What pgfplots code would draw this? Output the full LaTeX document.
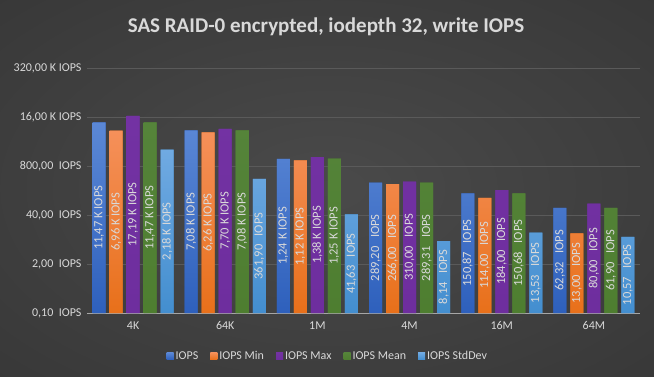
\documentclass[border=0pt]{standalone}
\usepackage{pgfplots}
\pgfplotsset{compat=1.18}
\usepackage{pgfplotstable}
\usepackage{fontspec}
\setmainfont{Carlito}
\pgfkeys{/pgf/number format/assume math mode=true}
\definecolor{bgin}{HTML}{4A4A4A}
\definecolor{bgout}{HTML}{262626}
\definecolor{txt}{HTML}{D9D9D9}
\definecolor{gridc}{HTML}{5A5A5A}
\definecolor{axc}{HTML}{A6A6A6}
\definecolor{bT}{HTML}{5B88D6}\definecolor{bB}{HTML}{2E60BC}
\definecolor{oT}{HTML}{F5905A}\definecolor{oB}{HTML}{E8701A}
\definecolor{pT}{HTML}{7332A3}\definecolor{pB}{HTML}{6E2E9E}
\definecolor{gT}{HTML}{55843A}\definecolor{gB}{HTML}{4E7E30}
\definecolor{lT}{HTML}{70AAE2}\definecolor{lB}{HTML}{438ECF}
\pgfdeclareradialshading{bgshade}{\pgfpoint{0bp}{0bp}}{color(0bp)=(bgin); color(72bp)=(bgout)}
\newcommand\iopslabel[1]{%
  \pgfkeys{/pgf/fpu=true,/pgf/fpu/output format=fixed}%
  \pgfmathparse{#1>=1000}\let\isk\pgfmathresult
  \pgfmathparse{#1/1000}\let\kval\pgfmathresult
  \pgfkeys{/pgf/fpu=false}%
  \ifdim\isk pt>0.5pt
    \pgfmathprintnumber[fixed,fixed zerofill,precision=2,use comma,assume math mode=true]{\kval}~K~IOPS%
  \else
    \pgfmathprintnumber[fixed,fixed zerofill,precision=2,use comma,assume math mode=true]{#1}~~~IOPS%
  \fi}
\newcommand\computeshift[1]{%
  \begingroup
  \pgfkeys{/pgf/fpu=true,/pgf/fpu/output format=fixed}%
  \pgfmathparse{-0.5*245*(ln(#1)-ln(0.1))/(ln(320000)-ln(0.1))}%
  \global\let\myshift\pgfmathresult
  \endgroup}
\pgfplotstableread{
x y
0 11470
1 7080
2 1240
3 289.20
4 150.87
5 62.32
}\tIOPS
\pgfplotstableread{
x y
0 6960
1 6260
2 1120
3 266.00
4 114.00
5 13.00
}\tMin
\pgfplotstableread{
x y
0 17190
1 7700
2 1380
3 310.00
4 184.00
5 80.00
}\tMax
\pgfplotstableread{
x y
0 11470
1 7080
2 1250
3 289.31
4 150.68
5 61.90
}\tMean
\pgfplotstableread{
x y
0 2180
1 361.90
2 41.63
3 8.14
4 13.53
5 10.57
}\tStd
\begin{document}
\begin{tikzpicture}
\path[use as bounding box] (0,0) rectangle (654pt,376pt);
\shade[shading=bgshade] (0,0) rectangle (654pt,376pt);
\node[text=txt, font=\fontsize{21}{25}\selectfont\bfseries] at (326pt,349pt) {SAS RAID-0 encrypted, iodepth 32, write IOPS};
\begin{axis}[
  at={(87pt,63pt)}, anchor=south west,
  width=553pt, height=245pt, scale only axis,
  ymode=log, log basis y=20, log origin y=infty,
  ymin=0.1, ymax=320000,
  xmin=-0.5, xmax=5.5,
  ybar=4pt, bar width=13pt,
  axis line style={draw=none},
  axis x line*=bottom,
  x axis line style={draw=axc, line width=0.8pt},
  tick style={draw=none},
  xtick={0,1,2,3,4,5},
  xticklabels={4K,64K,1M,4M,16M,64M},
  ytick={0.1,2,40,800,16000,320000},
  yticklabels={{0,10 \ IOPS},{2,00 \ IOPS},{40,00 \ IOPS},{800,00 \ IOPS},{16,00 K IOPS},{320,00 K IOPS}},
  yminorticks=false,
  ymajorgrids, major grid style={draw=gridc, line width=0.6pt},
  ticklabel style={text=txt, font=\fontsize{12}{14}\selectfont},
  yticklabel style={xshift=-2pt},
  xticklabel style={yshift=-1pt},
  legend columns=5,
  legend style={at={(0.4355,-0.1755)}, anchor=center, draw=none, fill=none,
    text=txt, font=\fontsize{12}{14}\selectfont,
    /tikz/every even column/.append style={column sep=10pt}},
  legend image code/.code={\fill[#1] (0pt,-3.5pt) rectangle (7pt,3.5pt);},
  visualization depends on={rawy \as \rawy},
  nodes near coords={\iopslabel{\rawy}},
  every node near coord/.append style={text=txt, font=\fontsize{12.5}{14}\selectfont,
    anchor=center, /utils/exec={\computeshift{\rawy}}, yshift=\myshift pt, rotate=90, inner sep=0pt},
]
\addplot[draw=none, top color=bT, bottom color=bB, fill=bB] table {\tIOPS};
\addlegendentry{IOPS}
\addplot[draw=none, top color=oT, bottom color=oB, fill=oB] table {\tMin};
\addlegendentry{IOPS Min}
\addplot[draw=none, top color=pT, bottom color=pB, fill=pB] table {\tMax};
\addlegendentry{IOPS Max}
\addplot[draw=none, top color=gT, bottom color=gB, fill=gB] table {\tMean};
\addlegendentry{IOPS Mean}
\addplot[draw=none, top color=lT, bottom color=lB, fill=lB] table {\tStd};
\addlegendentry{IOPS StdDev}
\end{axis}
\end{tikzpicture}
\end{document}
